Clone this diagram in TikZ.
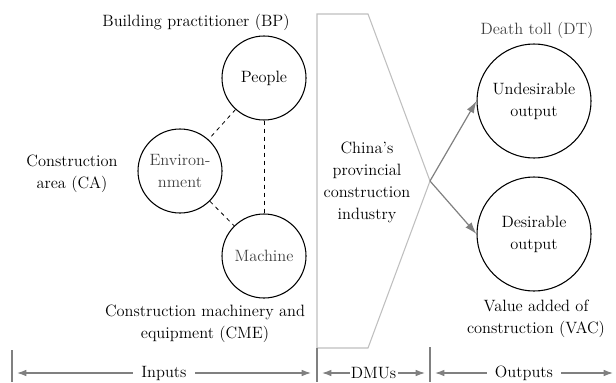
\documentclass[tikz,border=0pt]{standalone}
\usetikzlibrary{arrows.meta,positioning}

\begin{document}
\begin{tikzpicture}[x=0.75pt,y=-0.75pt,
  font=\fontsize{12.3}{16.5}\selectfont,
  factor/.style={circle,draw,line width=0.8pt,minimum size=63pt,inner sep=0pt,align=center},
  result/.style={factor,minimum size=85.5pt},
  link/.style={draw,dashed,line width=0.6pt},
  flow/.style={draw=gray,line width=0.9pt,-{Latex[length=9pt,width=6pt]}},
  span/.style={draw=gray,line width=0.9pt,{Latex[length=7pt,width=5pt]}-{Latex[length=7pt,width=5pt]}},
  bar/.style={draw=gray,line width=0.9pt}]
  \useasboundingbox (0,0) rectangle (616,382);

  % inputs
  \node (bp) at (196,22) {Building practitioner (BP)};
  \node[factor] (people) at (264,78) {People};
  \node[factor,text=darkgray] (env) at (180,171) {Environ-\\nment};
  \node[factor,text=darkgray] (machine) at (264,256) {Machine};
  \node[align=center] (ca) at (72,174) {Construction\\area (CA)};
  \node[align=center] (cme) at (205,324) {Construction machinery and\\equipment (CME)};
  \draw[link] (people) -- (env);
  \draw[link] (env) -- (machine);
  \draw[link] (people) -- (machine);

  % DMUs
  \draw[lightgray,line width=0.8pt] (317,14) -- (368,14) -- (430,181) coordinate (tip)
    -- (368,348) -- (317,348) -- cycle;
  \node[align=center] (dmu) at (367,182) {China’s\\provincial\\construction\\industry};

  % outputs
  \node[text=darkgray] (dt) at (537,30) {Death toll (DT)};
  \node[result] (undes) at (534,101) {Undesirable\\output};
  \node[result] (des) at (534,234) {Desirable\\output};
  \node[align=center] (vac) at (536,319) {Value added of\\construction (VAC)};
  \draw[flow] (tip) -- (undes.west);
  \draw[flow] (tip) -- (des.west);

  % bottom scale
  \coordinate (b0) at (12,350);
  \coordinate (b1) at (317,348);
  \coordinate (b2) at (430,347);
  \draw[bar] (b0) -- (12,382);
  \draw[bar] (b1) -- (317,382);
  \draw[bar] (b2) -- (430,382);
  \coordinate (i0) at (17,373);
  \coordinate (i1) at (311,373);
  \coordinate (d0) at (322,373);
  \coordinate (d1) at (425,373);
  \coordinate (o0) at (435,373);
  \coordinate (o1) at (613,373);
  \draw[span] (i0) -- node[fill=white,inner xsep=6pt] (inputs) {Inputs} (i1);
  \draw[span] (d0) -- node[fill=white,inner xsep=1pt] (dmus) {DMUs} (d1);
  \draw[span] (o0) -- node[fill=white,inner xsep=6pt] (outputs) {Outputs} (o1);
\end{tikzpicture}
\end{document}
